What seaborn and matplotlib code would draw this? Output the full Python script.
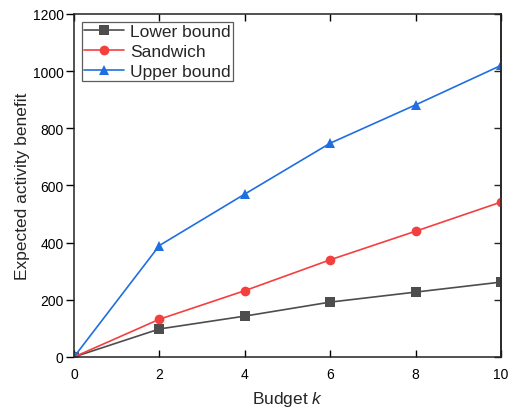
import matplotlib
matplotlib.use("Agg")
import matplotlib.pyplot as plt
import seaborn as sns
import pandas as pd

budget = [0, 2, 4, 6, 8, 10]
lower_bound = [0, 98, 143, 192, 227, 262]
sandwich = [0, 132, 232, 340, 440, 542]
upper_bound = [0, 390, 570, 748, 882, 1020]

series_names = ["Lower bound", "Sandwich", "Upper bound"]
colors = ["#4d4d4d", "#f43f3f", "#1f6fe0"]
markers = ["s", "o", "^"]
y_ticks = [0, 200, 400, 600, 800, 1000, 1200]

df = pd.DataFrame({
    "k": budget * 3,
    "value": lower_bound + sandwich + upper_bound,
    "series": [n for n in series_names for _ in budget],
})

sns.set_theme(style="ticks")
plt.rcParams["font.family"] = ["Liberation Sans", "DejaVu Sans"]
plt.rcParams["mathtext.fontset"] = "custom"
plt.rcParams["mathtext.it"] = "Liberation Sans:italic"

fig = plt.figure(figsize=(5.12, 4.14), dpi=100)
ax = fig.add_axes([0.1445, 0.1353, 0.834, 0.8285])

sns.lineplot(data=df, x="k", y="value", hue="series", style="series",
             palette=colors, markers=markers, dashes=False, markersize=7,
             markeredgewidth=0, linewidth=1.2, ax=ax, legend=True)

ax.set_xlim(0, 10)
ax.set_ylim(0, 1200)
ax.set_xticks(budget)
ax.set_yticks(y_ticks)
ax.tick_params(axis="x", direction="in", top=True, length=5, width=1,
               labelsize=10, colors="black", pad=7)
ax.tick_params(axis="y", left=True, right=False, direction="out",
               length=5.5, width=1, labelsize=10, colors="black", pad=2)
# inward ticks on the right spine
ax2 = ax.secondary_yaxis("right")
ax2.set_yticks(y_ticks)
ax2.tick_params(direction="in", length=5, width=1, labelright=False)
ax2.spines["right"].set_linewidth(1.1)
ax2.spines["right"].set_color("#222222")
for s in ax.spines.values():
    s.set_linewidth(1.1)
    s.set_color("#222222")

ax.set_xlabel("Budget $k$", fontsize=12.5)
ax.xaxis.set_label_coords(0.5, -0.093)
ax.set_ylabel("Expected activity benefit", fontsize=12.5)
ax.yaxis.set_label_coords(-0.103, 0.5)

leg = ax.legend(loc="upper left", fontsize=12.5, frameon=True, fancybox=False,
                edgecolor="#333333", borderpad=0.12, labelspacing=0.28,
                handlelength=2.3, handletextpad=0.35, borderaxespad=0.45)
leg.get_frame().set_linewidth(0.9)

fig.savefig("out.png", dpi=100)
